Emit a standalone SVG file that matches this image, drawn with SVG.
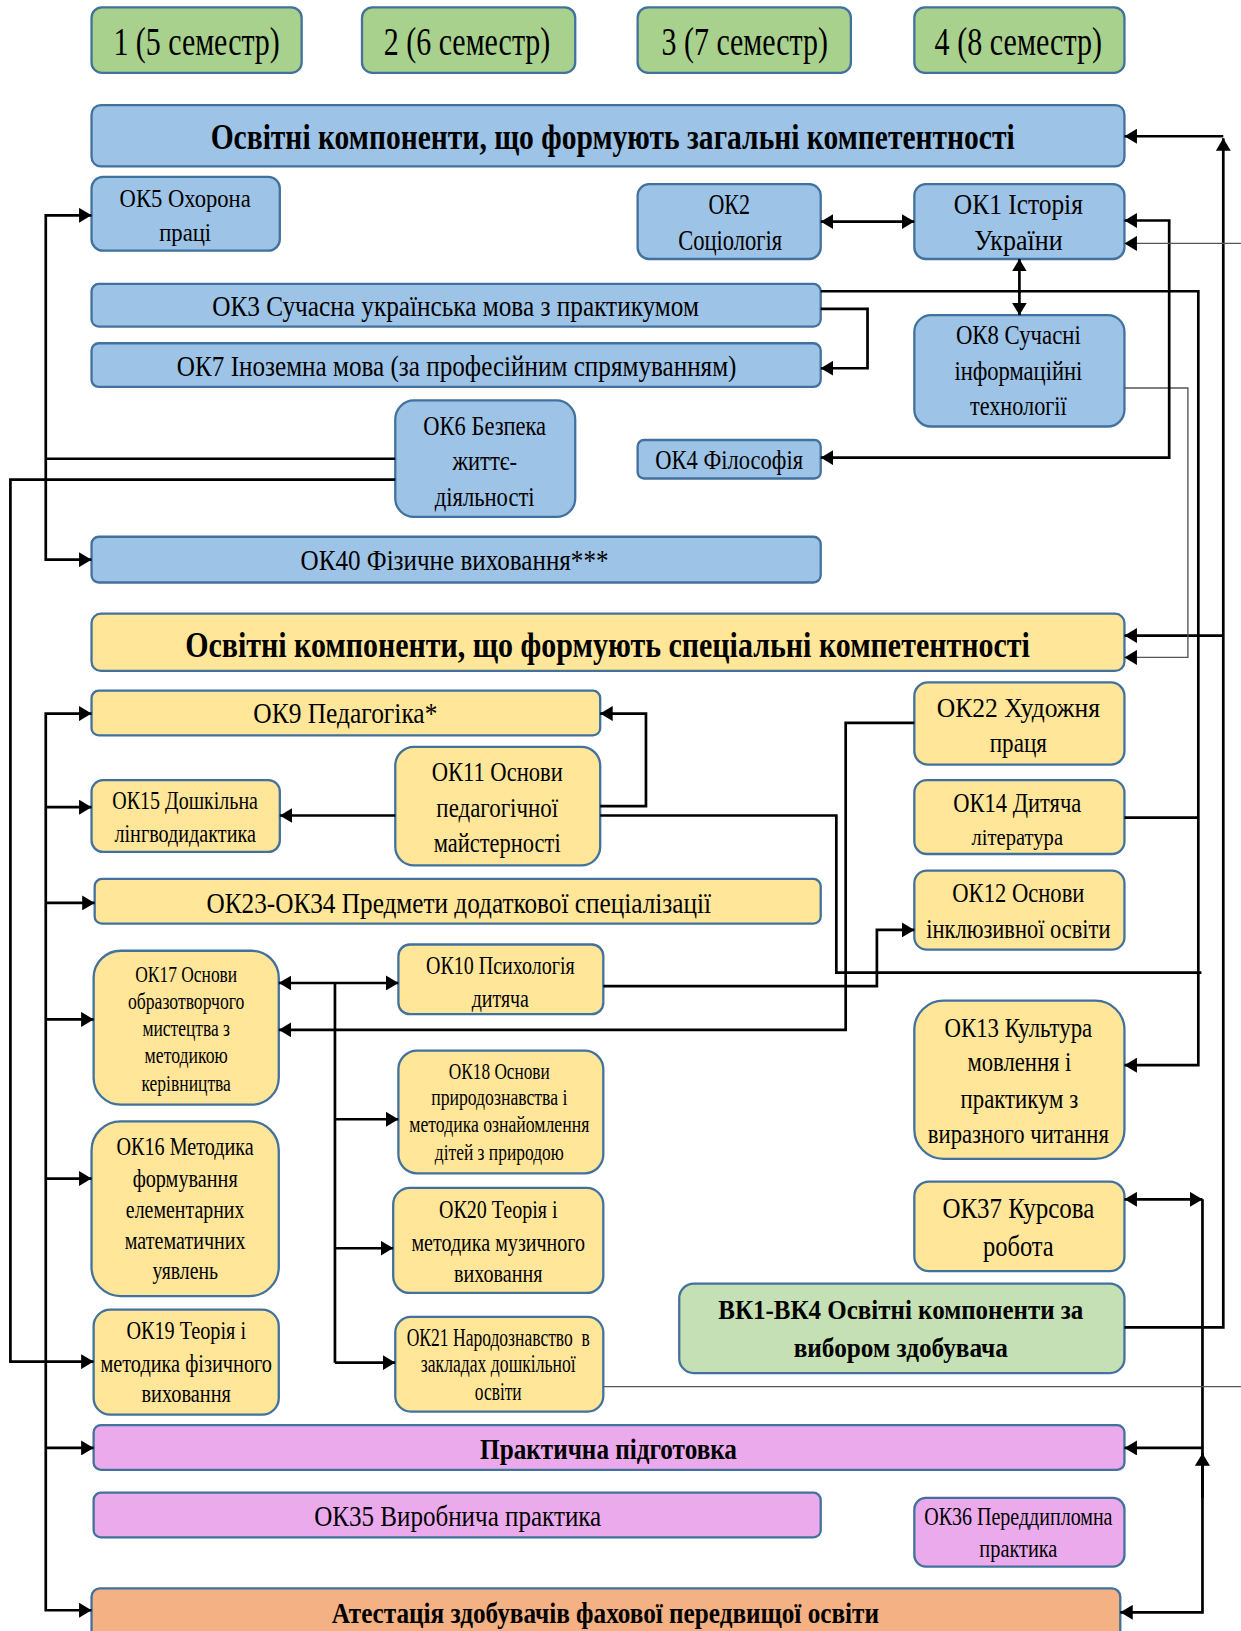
<svg xmlns="http://www.w3.org/2000/svg" width="1241" height="1631" viewBox="0 0 1241 1631">
<style>
.n rect{stroke:#41719C;stroke-width:2.2}
.b{fill:#9DC3E6}.y{fill:#FFE699}.g{fill:#A9D18E}.v{fill:#C5E0B4}.p{fill:#EAAAEC}.o{fill:#F4B183}
text{font-family:"Liberation Serif","Times New Roman",serif;text-anchor:middle;fill:#000}
.bd{font-weight:bold}
.c path{fill:none;stroke:#000;stroke-width:2.6}
.c path.thin{stroke:#555;stroke-width:1.3}
</style>
<defs>
<marker id="ah" viewBox="0 0 10 12" refX="10" refY="6" markerWidth="12" markerHeight="14.4" markerUnits="userSpaceOnUse" orient="auto-start-reverse"><path d="M0,0 L10,6 L0,12 z" fill="#000"/></marker>
</defs>
<rect width="1241" height="1631" fill="#fff"/>
<g transform="scale(1.0402)">
<g id="sem1" class="n"><rect class="g" x="88" y="7" width="202" height="63" rx="10"/><text x="189" y="53" font-size="38" textLength="160" lengthAdjust="spacingAndGlyphs">1 (5 семестр)</text></g>
<g id="sem2" class="n"><rect class="g" x="348" y="7" width="205" height="63" rx="10"/><text x="449" y="53" font-size="38" textLength="160" lengthAdjust="spacingAndGlyphs">2 (6 семестр)</text></g>
<g id="sem3" class="n"><rect class="g" x="613" y="7" width="205" height="63" rx="10"/><text x="716" y="53" font-size="38" textLength="160" lengthAdjust="spacingAndGlyphs">3 (7 семестр)</text></g>
<g id="sem4" class="n"><rect class="g" x="879" y="7" width="202" height="63" rx="10"/><text x="979" y="53" font-size="38" textLength="161" lengthAdjust="spacingAndGlyphs">4 (8 семестр)</text></g>

<g id="hdr-general" class="n"><rect class="b" x="88" y="101" width="993" height="59" rx="9"/><text class="bd" x="589" y="143" font-size="34" textLength="773" lengthAdjust="spacingAndGlyphs">Освітні компоненти, що формують загальні компетентності</text></g>
<g id="ok5" class="n"><rect class="b" x="88" y="170" width="181" height="71" rx="11"/><text x="178" y="199" font-size="25" textLength="126" lengthAdjust="spacingAndGlyphs">ОК5 Охорона</text><text x="178" y="232" font-size="25" textLength="50" lengthAdjust="spacingAndGlyphs">праці</text></g>
<g id="ok2" class="n"><rect class="b" x="613" y="177" width="176" height="72" rx="11"/><text x="701" y="206" font-size="28" textLength="40" lengthAdjust="spacingAndGlyphs">ОК2</text><text x="702" y="240" font-size="28" textLength="100" lengthAdjust="spacingAndGlyphs">Соціологія</text></g>
<g id="ok1" class="n"><rect class="b" x="879" y="177" width="202" height="72" rx="11"/><text x="979" y="206" font-size="28" textLength="124" lengthAdjust="spacingAndGlyphs">ОК1 Історія</text><text x="979" y="240" font-size="28" textLength="85" lengthAdjust="spacingAndGlyphs">України</text></g>
<g id="ok3" class="n"><rect class="b" x="88" y="273" width="701" height="41" rx="7"/><text x="438" y="304" font-size="29" textLength="468" lengthAdjust="spacingAndGlyphs">ОК3 Сучасна українська мова з практикумом</text></g>
<g id="ok7" class="n"><rect class="b" x="88" y="330" width="701" height="42" rx="7"/><text x="439" y="361" font-size="29" textLength="538" lengthAdjust="spacingAndGlyphs">ОК7 Іноземна мова (за професійним спрямуванням)</text></g>
<g id="ok8" class="n"><rect class="b" x="879" y="303" width="202" height="107" rx="16"/><text x="979" y="331" font-size="27" textLength="120" lengthAdjust="spacingAndGlyphs">ОК8 Сучасні</text><text x="979" y="365" font-size="27" textLength="123" lengthAdjust="spacingAndGlyphs">інформаційні</text><text x="979" y="399" font-size="27" textLength="93" lengthAdjust="spacingAndGlyphs">технології</text></g>
<g id="ok6" class="n"><rect class="b" x="380" y="385" width="173" height="112" rx="18"/><text x="466" y="418" font-size="26" textLength="118" lengthAdjust="spacingAndGlyphs">ОК6 Безпека</text><text x="466" y="452" font-size="26" textLength="62" lengthAdjust="spacingAndGlyphs">життє-</text><text x="466" y="486" font-size="26" textLength="96" lengthAdjust="spacingAndGlyphs">діяльності</text></g>
<g id="ok4" class="n"><rect class="b" x="613" y="423" width="176" height="37" rx="6"/><text x="701" y="451" font-size="27" textLength="142" lengthAdjust="spacingAndGlyphs">ОК4 Філософія</text></g>
<g id="ok40" class="n"><rect class="b" x="88" y="516" width="701" height="44" rx="7"/><text x="437" y="548" font-size="29" textLength="296" lengthAdjust="spacingAndGlyphs">ОК40 Фізичне виховання***</text></g>

<g id="hdr-special" class="n"><rect class="y" x="88" y="590" width="993" height="55" rx="9"/><text class="bd" x="584" y="632" font-size="34" textLength="812" lengthAdjust="spacingAndGlyphs">Освітні компоненти, що формують спеціальні компетентності</text></g>
<g id="ok9" class="n"><rect class="y" x="88" y="664" width="489" height="43" rx="7"/><text x="332" y="695" font-size="29" textLength="177" lengthAdjust="spacingAndGlyphs">ОК9 Педагогіка*</text></g>
<g id="ok22" class="n"><rect class="y" x="879" y="656" width="202" height="79" rx="13"/><text x="979" y="689" font-size="27" textLength="157" lengthAdjust="spacingAndGlyphs">ОК22 Художня</text><text x="979" y="723" font-size="27" textLength="55" lengthAdjust="spacingAndGlyphs">праця</text></g>
<g id="ok11" class="n"><rect class="y" x="380" y="718" width="197" height="114" rx="18"/><text x="478" y="751" font-size="27" textLength="126" lengthAdjust="spacingAndGlyphs">ОК11 Основи</text><text x="478" y="785" font-size="27" textLength="117" lengthAdjust="spacingAndGlyphs">педагогічної</text><text x="478" y="819" font-size="27" textLength="122" lengthAdjust="spacingAndGlyphs">майстерності</text></g>
<g id="ok15" class="n"><rect class="y" x="88" y="750" width="181" height="69" rx="11"/><text x="178" y="778" font-size="25" textLength="140" lengthAdjust="spacingAndGlyphs">ОК15 Дошкільна</text><text x="178" y="809" font-size="24" textLength="136" lengthAdjust="spacingAndGlyphs">лінгводидактика</text></g>
<g id="ok14" class="n"><rect class="y" x="879" y="750" width="202" height="71" rx="12"/><text x="978" y="781" font-size="27" textLength="123" lengthAdjust="spacingAndGlyphs">ОК14 Дитяча</text><text x="978" y="812" font-size="23" textLength="88" lengthAdjust="spacingAndGlyphs">література</text></g>
<g id="ok23-34" class="n"><rect class="y" x="91" y="845" width="698" height="43" rx="7"/><text x="441" y="878" font-size="29" textLength="485" lengthAdjust="spacingAndGlyphs">ОК23-ОК34 Предмети додаткової спеціалізації</text></g>
<g id="ok12" class="n"><rect class="y" x="879" y="837" width="202" height="76" rx="12"/><text x="979" y="867" font-size="27" textLength="127" lengthAdjust="spacingAndGlyphs">ОК12 Основи</text><text x="979" y="902" font-size="27" textLength="177" lengthAdjust="spacingAndGlyphs">інклюзивної освіти</text></g>
<g id="ok17" class="n"><rect class="y" x="90" y="914" width="178" height="148" rx="26"/><text x="179" y="944" font-size="23" textLength="98" lengthAdjust="spacingAndGlyphs">ОК17 Основи</text><text x="179" y="970" font-size="23" textLength="112" lengthAdjust="spacingAndGlyphs">образотворчого</text><text x="179" y="996" font-size="23" textLength="84" lengthAdjust="spacingAndGlyphs">мистецтва з</text><text x="179" y="1022" font-size="23" textLength="80" lengthAdjust="spacingAndGlyphs">методикою</text><text x="179" y="1049" font-size="23" textLength="86" lengthAdjust="spacingAndGlyphs">керівництва</text></g>
<g id="ok10" class="n"><rect class="y" x="383" y="908" width="197" height="67" rx="11"/><text x="481" y="936" font-size="25" textLength="143" lengthAdjust="spacingAndGlyphs">ОК10 Психологія</text><text x="481" y="968" font-size="25" textLength="55" lengthAdjust="spacingAndGlyphs">дитяча</text></g>
<g id="ok13" class="n"><rect class="y" x="879" y="962" width="202" height="152" rx="28"/><text x="979" y="997" font-size="27" textLength="142" lengthAdjust="spacingAndGlyphs">ОК13 Культура</text><text x="980" y="1030" font-size="27" textLength="100" lengthAdjust="spacingAndGlyphs">мовлення і</text><text x="980" y="1065" font-size="27" textLength="113" lengthAdjust="spacingAndGlyphs">практикум з</text><text x="979" y="1099" font-size="27" textLength="174" lengthAdjust="spacingAndGlyphs">виразного читання</text></g>
<g id="ok18" class="n"><rect class="y" x="383" y="1010" width="197" height="118" rx="18"/><text x="480" y="1037" font-size="23" textLength="97" lengthAdjust="spacingAndGlyphs">ОК18 Основи</text><text x="480" y="1062" font-size="23" textLength="131" lengthAdjust="spacingAndGlyphs">природознавства і</text><text x="480" y="1088" font-size="23" textLength="173" lengthAdjust="spacingAndGlyphs">методика ознайомлення</text><text x="480" y="1115" font-size="23" textLength="124" lengthAdjust="spacingAndGlyphs">дітей з природою</text></g>
<g id="ok16" class="n"><rect class="y" x="88" y="1078" width="180" height="168" rx="28"/><text x="178" y="1110" font-size="25" textLength="132" lengthAdjust="spacingAndGlyphs">ОК16 Методика</text><text x="178" y="1141" font-size="25" textLength="101" lengthAdjust="spacingAndGlyphs">формування</text><text x="178" y="1171" font-size="25" textLength="114" lengthAdjust="spacingAndGlyphs">елементарних</text><text x="178" y="1201" font-size="25" textLength="116" lengthAdjust="spacingAndGlyphs">математичних</text><text x="178" y="1230" font-size="25" textLength="63" lengthAdjust="spacingAndGlyphs">уявлень</text></g>
<g id="ok20" class="n"><rect class="y" x="378" y="1142" width="202" height="101" rx="16"/><text x="479" y="1171" font-size="25" textLength="114" lengthAdjust="spacingAndGlyphs">ОК20 Теорія і</text><text x="479" y="1203" font-size="25" textLength="167" lengthAdjust="spacingAndGlyphs">методика музичного</text><text x="479" y="1232" font-size="25" textLength="85" lengthAdjust="spacingAndGlyphs">виховання</text></g>
<g id="ok37" class="n"><rect class="y" x="879" y="1136" width="202" height="86" rx="14"/><text x="979" y="1171" font-size="29" textLength="146" lengthAdjust="spacingAndGlyphs">ОК37 Курсова</text><text x="979" y="1207" font-size="29" textLength="68" lengthAdjust="spacingAndGlyphs">робота</text></g>
<g id="vk1-4" class="n"><rect class="v" x="653" y="1234" width="428" height="86" rx="14"/><text class="bd" x="866" y="1268" font-size="27" textLength="351" lengthAdjust="spacingAndGlyphs">ВК1-ВК4 Освітні компоненти за</text><text class="bd" x="866" y="1305" font-size="27" textLength="206" lengthAdjust="spacingAndGlyphs">вибором здобувача</text></g>
<g id="ok19" class="n"><rect class="y" x="90" y="1259" width="178" height="101" rx="16"/><text x="179" y="1287" font-size="25" textLength="115" lengthAdjust="spacingAndGlyphs">ОК19 Теорія і</text><text x="179" y="1319" font-size="25" textLength="165" lengthAdjust="spacingAndGlyphs">методика фізичного</text><text x="179" y="1348" font-size="25" textLength="86" lengthAdjust="spacingAndGlyphs">виховання</text></g>
<g id="ok21" class="n"><rect class="y" x="380" y="1266" width="200" height="91" rx="15"/><text x="479" y="1294" font-size="24" textLength="176" lengthAdjust="spacingAndGlyphs" xml:space="preserve">ОК21 Народознавство  в</text><text x="479" y="1319" font-size="24" textLength="149" lengthAdjust="spacingAndGlyphs">закладах дошкільної</text><text x="479" y="1346" font-size="24" textLength="45" lengthAdjust="spacingAndGlyphs">освіти</text></g>
<g id="practice" class="n"><rect class="p" x="90" y="1370" width="991" height="43" rx="7"/><text class="bd" x="585" y="1403" font-size="28" textLength="247" lengthAdjust="spacingAndGlyphs">Практична підготовка</text></g>
<g id="ok35" class="n"><rect class="p" x="90" y="1435" width="699" height="43" rx="7"/><text x="440" y="1467" font-size="29" textLength="276" lengthAdjust="spacingAndGlyphs">ОК35 Виробнича практика</text></g>
<g id="ok36" class="n"><rect class="p" x="879" y="1440" width="202" height="66" rx="11"/><text x="979" y="1466" font-size="24" textLength="181" lengthAdjust="spacingAndGlyphs">ОК36 Переддипломна</text><text x="979" y="1497" font-size="24" textLength="75" lengthAdjust="spacingAndGlyphs">практика</text></g>
<g id="attestation" class="n"><rect class="o" x="88" y="1527" width="989" height="60" rx="8"/><text class="bd" x="582" y="1560" font-size="29" textLength="526" lengthAdjust="spacingAndGlyphs">Атестація здобувачів фахової передвищої освіти</text></g>

<g id="connectors" class="c">
<path d="M1081,1276 H1176 V133" marker-end="url(#ah)"/>
<path d="M1176,131 H1081" marker-end="url(#ah)"/>
<path d="M1176,611 H1081" marker-end="url(#ah)"/>
<path class="thin" d="M1081,373 H1142 V632 H1081" marker-end="url(#ah)"/>
<path d="M1081,212 H1124 V440 H789" marker-start="url(#ah)" marker-end="url(#ah)"/>
<path class="thin" d="M1193,234 H1081" marker-end="url(#ah)"/>
<path d="M980,249 V303" marker-start="url(#ah)" marker-end="url(#ah)"/>
<path d="M789,213 H879" marker-start="url(#ah)" marker-end="url(#ah)"/>
<path d="M789,280 H1152 V1024 H1081" marker-end="url(#ah)"/>
<path d="M789,297 H834 V354 H789" marker-end="url(#ah)"/>
<path d="M1081,786 H1152"/>
<path d="M577,775 H621 V686 H577" marker-end="url(#ah)"/>
<path d="M577,784 H804 V935 H1155"/>
<path d="M380,784 H269" marker-end="url(#ah)"/>
<path d="M879,695 H813 V990 H268" marker-end="url(#ah)"/>
<path d="M580,948 H843 V894 H879" marker-end="url(#ah)"/>
<path d="M268,945 H383" marker-start="url(#ah)" marker-end="url(#ah)"/>
<path d="M322,945 V1310"/>
<path d="M322,1076 H383" marker-end="url(#ah)"/>
<path d="M322,1200 H378" marker-end="url(#ah)"/>
<path d="M322,1310 H380" marker-end="url(#ah)"/>
<path d="M88,207 H44 V538 H88" marker-start="url(#ah)" marker-end="url(#ah)"/>
<path d="M380,441 H44"/>
<path d="M380,461 H10 V1309 H90" marker-end="url(#ah)"/>
<path d="M88,686 H44 V1548 H88" marker-start="url(#ah)" marker-end="url(#ah)"/>
<path d="M44,776 H88" marker-end="url(#ah)"/>
<path d="M44,868 H91" marker-end="url(#ah)"/>
<path d="M44,980 H90" marker-end="url(#ah)"/>
<path d="M44,1133 H88" marker-end="url(#ah)"/>
<path d="M44,1392 H90" marker-end="url(#ah)"/>
<path d="M1081,1153 H1156" marker-start="url(#ah)" marker-end="url(#ah)"/>
<path d="M1156,1153 V1550 H1077" marker-end="url(#ah)"/>
<path d="M1156,1392 H1081" marker-end="url(#ah)"/>
<path d="M1156,1440 V1397" marker-end="url(#ah)"/>
<path class="thin" d="M580,1333 H1193"/>
</g>
</g>
</svg>
